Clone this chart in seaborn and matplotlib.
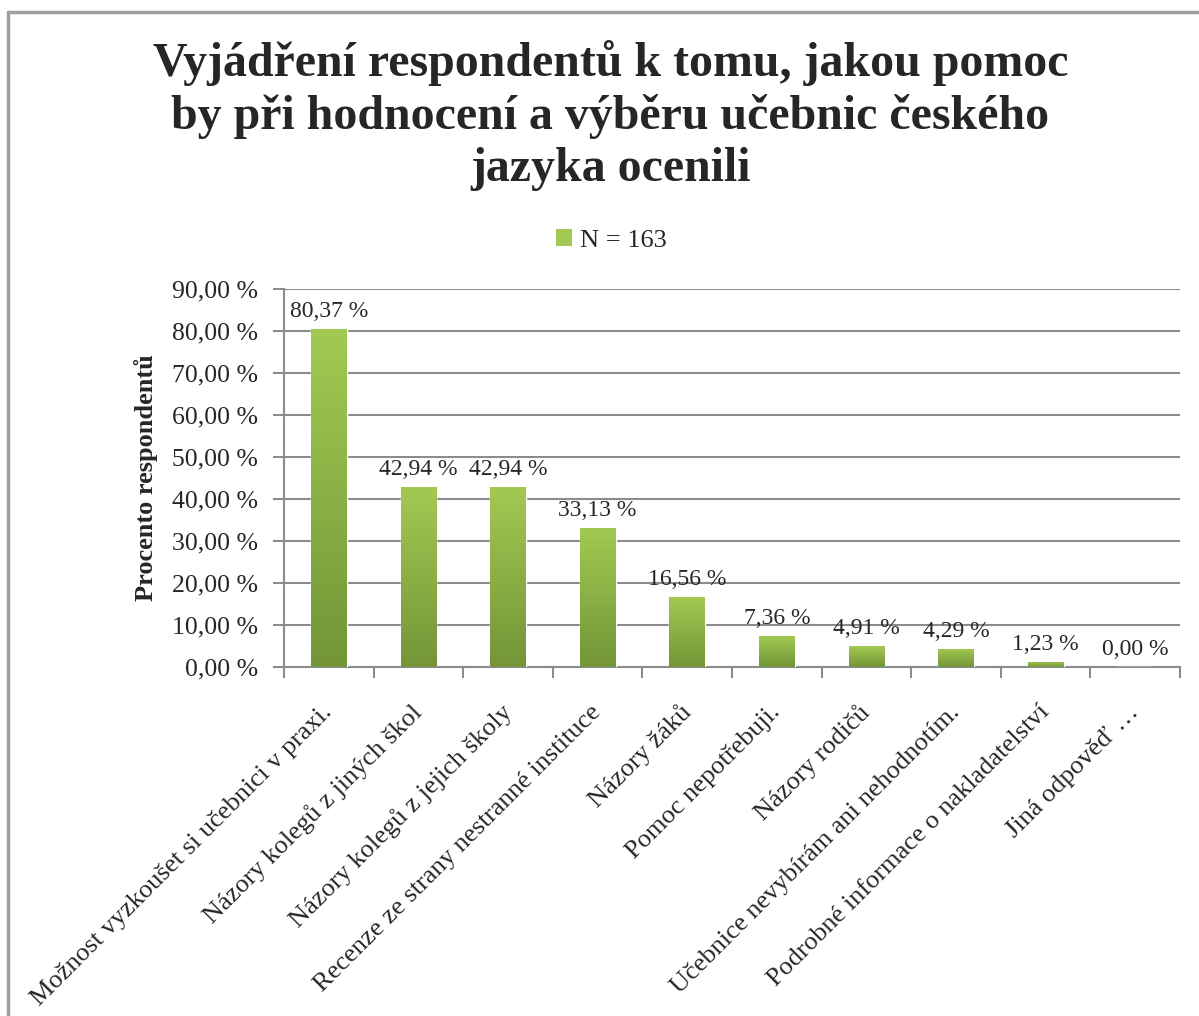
import numpy as np
import pandas as pd
import matplotlib.pyplot as plt
import matplotlib.colors as mcolors
from matplotlib.patches import Patch
from matplotlib.lines import Line2D
import seaborn as sns

# ================= Data =================
CATEGORIES = [
    'Možnost vyzkoušet si učebnici v praxi.',
    'Názory kolegů z jiných škol',
    'Názory kolegů z jejich školy',
    'Recenze ze strany nestranné instituce',
    'Názory žáků',
    'Pomoc nepotřebuji.',
    'Názory rodičů',
    'Učebnice nevybírám ani nehodnotím.',
    'Podrobné informace o nakladatelství',
    'Jiná odpověď …',
]
VALUES = [80.37, 42.94, 42.94, 33.13, 16.56, 7.36, 4.91, 4.29, 1.23, 0.00]
SERIES = 'N = 163'
TITLE = 'Vyjádření respondentů k tomu, jakou pomoc\nby při hodnocení a výběru učebnic českého\njazyka ocenili'
YLABEL = 'Procento respondentů'
YTICKS = [0, 10, 20, 30, 40, 50, 60, 70, 80, 90]

GREEN_TOP = '#A2CA52'
GREEN_BOT = '#739538'
GRID = '#8C8C8C'

sns.set_style('white')
plt.rcParams['font.family'] = ['Liberation Serif', 'DejaVu Serif']


def pct(v):
    return f'{v:.2f}'.replace('.', ',') + ' %'


df = pd.DataFrame({'cat': CATEGORIES, 'val': VALUES})

fig = plt.figure(figsize=(11.99, 10.16), dpi=100)
ax = fig.add_axes([0.2369, 0.3435, 0.7473, 0.3721])

sns.barplot(data=df, x='cat', y='val', color=GREEN_TOP, width=0.4, ax=ax,
            saturation=1, zorder=3)

# vertical gradient inside every bar (light top, dark bottom)
cmap = mcolors.LinearSegmentedColormap.from_list('g', [GREEN_BOT, GREEN_TOP])
grad = np.linspace(0, 1, 256).reshape(-1, 1)
for p in ax.patches:
    x0, y0 = p.get_x(), p.get_y()
    w, h = p.get_width(), p.get_height()
    if h <= 0:
        continue
    im = ax.imshow(grad, cmap=cmap, aspect='auto', origin='lower',
                   extent=[x0, x0 + w, y0, y0 + h], zorder=4)
    im.set_clip_path(p)

ax.set_xlim(-0.5, len(CATEGORIES) - 0.5)
ax.set_ylim(0, 90)

# data labels
for c in ax.containers:
    ax.bar_label(c, labels=[pct(v) for v in VALUES], padding=5, fontsize=17, zorder=5)

# y axis
ax.set_yticks(YTICKS)
ax.set_yticklabels([pct(v) for v in YTICKS], fontsize=18.5)
ax.yaxis.grid(True, color=GRID, linewidth=1.5, zorder=0)
ax.set_ylabel(YLABEL, fontsize=19, fontweight='bold', labelpad=10)
ax.tick_params(axis='y', length=8, width=1.5, color=GRID, direction='out', pad=11, left=True)

# x axis: labels at centres, tick marks at category boundaries
ax.set_xlabel('')
ax.set_xticks(range(len(CATEGORIES)))
ax.set_xticklabels(CATEGORIES, rotation=45, ha='right', va='center',
                   rotation_mode='anchor', fontsize=19)
ax.tick_params(axis='x', which='major', length=0, pad=30)
ax.set_xticks(np.arange(-0.5, len(CATEGORIES)), minor=True)
ax.tick_params(axis='x', which='minor', length=8, width=1.5, color=GRID, direction='out', bottom=True)

for s in ['top', 'right']:
    ax.spines[s].set_visible(False)
for s in ['left', 'bottom']:
    ax.spines[s].set_color(GRID)
    ax.spines[s].set_linewidth(1.5)

# legend
fig.legend(handles=[Patch(facecolor=GREEN_TOP, edgecolor='none', label=SERIES)],
           loc='center', bbox_to_anchor=(0.51, 0.763), frameon=False,
           fontsize=19, handlelength=0.6, handleheight=0.6, handletextpad=0.3)

# title
fig.text(0.509, 0.961, TITLE, ha='center', va='top', fontsize=34.5,
         fontweight='bold', linespacing=1.24)

# chart frame (left and top edges visible)
fig.add_artist(Line2D([8 / 1199, 8 / 1199], [0, 1 - 12 / 1016], transform=fig.transFigure,
                      color='#A0A0A0', linewidth=2.5))
fig.add_artist(Line2D([8 / 1199, 1], [1 - 12 / 1016, 1 - 12 / 1016], transform=fig.transFigure,
                      color='#A0A0A0', linewidth=2.5))

fig.savefig('out.png', dpi=100)
